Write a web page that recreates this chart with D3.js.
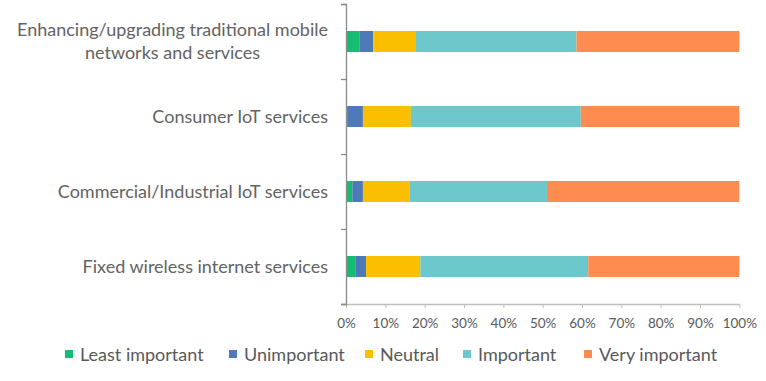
<!DOCTYPE html>
<html><head><meta charset="utf-8">
<script src="https://cdn.jsdelivr.net/npm/d3@7"></script>
<style>
html,body{margin:0;padding:0;background:#fff;}
svg{display:block;}
text{font-family:Lato,"Open Sans",sans-serif;}
</style></head>
<body>
<svg id="chart" width="766" height="381"></svg>
<script>
const categories = [
  "Enhancing/upgrading traditional mobile networks and services",
  "Consumer IoT services",
  "Commercial/Industrial IoT services",
  "Fixed wireless internet services"
];
const categoryLines = [
  ["Enhancing/upgrading traditional mobile", "networks and services"],
  ["Consumer IoT services"],
  ["Commercial/Industrial IoT services"],
  ["Fixed wireless internet services"]
];
const seriesNames = ["Least important", "Unimportant", "Neutral", "Important", "Very important"];
const seriesColors = ["#17bb72", "#4e79b9", "#fbbf00", "#6dc8cc", "#fe8b4f"];
const leastImportant = [3.5, 0.3, 1.6, 2.5];
const unimportant    = [3.4, 4.0, 2.7, 2.6];
const neutral        = [10.9, 12.2, 11.8, 13.8];
const important      = [40.8, 43.2, 35.0, 42.7];
const veryImportant  = [41.4, 40.3, 48.9, 38.4];
const xTicks = [0, 10, 20, 30, 40, 50, 60, 70, 80, 90, 100];

const seriesValues = [leastImportant, unimportant, neutral, important, veryImportant];
const rows = categories.map((c, i) => {
  const r = {category: c};
  seriesNames.forEach((s, j) => r[s] = seriesValues[j][i]);
  return r;
});

const svg = d3.select("#chart");
const pLeft = 346, pRight = 739.3, pTop = 4, pBottom = 304;

const x = d3.scaleLinear().domain([0, 100]).range([pLeft, pRight]);
const y = d3.scaleBand().domain(categories).range([pTop, pBottom]).paddingInner(0.72).paddingOuter(0.36);
const yBand = d3.scaleBand().domain(categories).range([pTop, pBottom]).padding(0);

const stacked = d3.stack().keys(seriesNames)(rows);

svg.append("g").selectAll("g").data(stacked).join("g")
  .attr("fill", (d, i) => seriesColors[i])
  .selectAll("rect").data(d => d).join("rect")
  .attr("x", d => x(d[0]))
  .attr("width", d => x(d[1]) - x(d[0]))
  .attr("y", d => y(d.data.category))
  .attr("height", y.bandwidth());

// x axis
const xAxis = svg.append("g").attr("transform", `translate(0,${pBottom})`)
  .call(d3.axisBottom(x).tickValues(xTicks).tickFormat(d => d + "%").tickSize(4).tickSizeOuter(0));
xAxis.select(".domain").attr("stroke", "#bfbfbf").attr("stroke-width", 1.5)
  .attr("d", `M${pLeft - 5},0.5H${pRight}`);
xAxis.selectAll(".tick line").attr("stroke", "#bfbfbf").attr("stroke-width", 1);
xAxis.selectAll(".tick text").attr("fill", "#595959").attr("font-size", 13.5)
  .attr("font-family", "Lato, sans-serif").attr("dy", "0.35em").attr("y", 19);

// y axis line and ticks at band boundaries
const yAxis = svg.append("g").attr("transform", `translate(${pLeft},0)`)
  .call(d3.axisLeft(yBand).tickValues([]).tickSizeOuter(5));
yAxis.select(".domain").attr("stroke", "#8a8a8a").attr("stroke-width", 1.3);
const bounds = categories.map(c => yBand(c)).concat([pBottom]);
yAxis.selectAll(".bound").data(bounds).join("line").attr("class", "bound")
  .attr("x1", -5).attr("x2", 0).attr("y1", d => d + 0.5).attr("y2", d => d + 0.5)
  .attr("stroke", "#8a8a8a").attr("stroke-width", 1.3);

// category labels
const lh = 23;
categories.forEach((c, i) => {
  const lines = categoryLines[i];
  const cy = y(c) + y.bandwidth() / 2;
  const g = svg.append("g");
  const ts = lines.map((ln, k) => g.append("text")
    .attr("y", cy + (k - (lines.length - 1) / 2) * lh)
    .attr("dy", "0.35em")
    .attr("font-size", 18)
    .attr("fill", "#636363")
    .attr("text-anchor", "middle")
    .text(ln));
  const maxW = d3.max(ts, t => t.node().getComputedTextLength());
  ts.forEach(t => t.attr("x", 328 - maxW / 2));
});

// legend
const legendX = [65, 229, 365, 463, 584];
const lg = svg.append("g");
seriesNames.forEach((s, i) => {
  lg.append("rect").attr("x", legendX[i]).attr("y", 350).attr("width", 8).attr("height", 8)
    .attr("fill", seriesColors[i]);
  lg.append("text").attr("x", legendX[i] + 15).attr("y", 355).attr("dy", "0.36em")
    .attr("font-size", 18).attr("fill", "#595959").text(s);
});
</script>
</body></html>
